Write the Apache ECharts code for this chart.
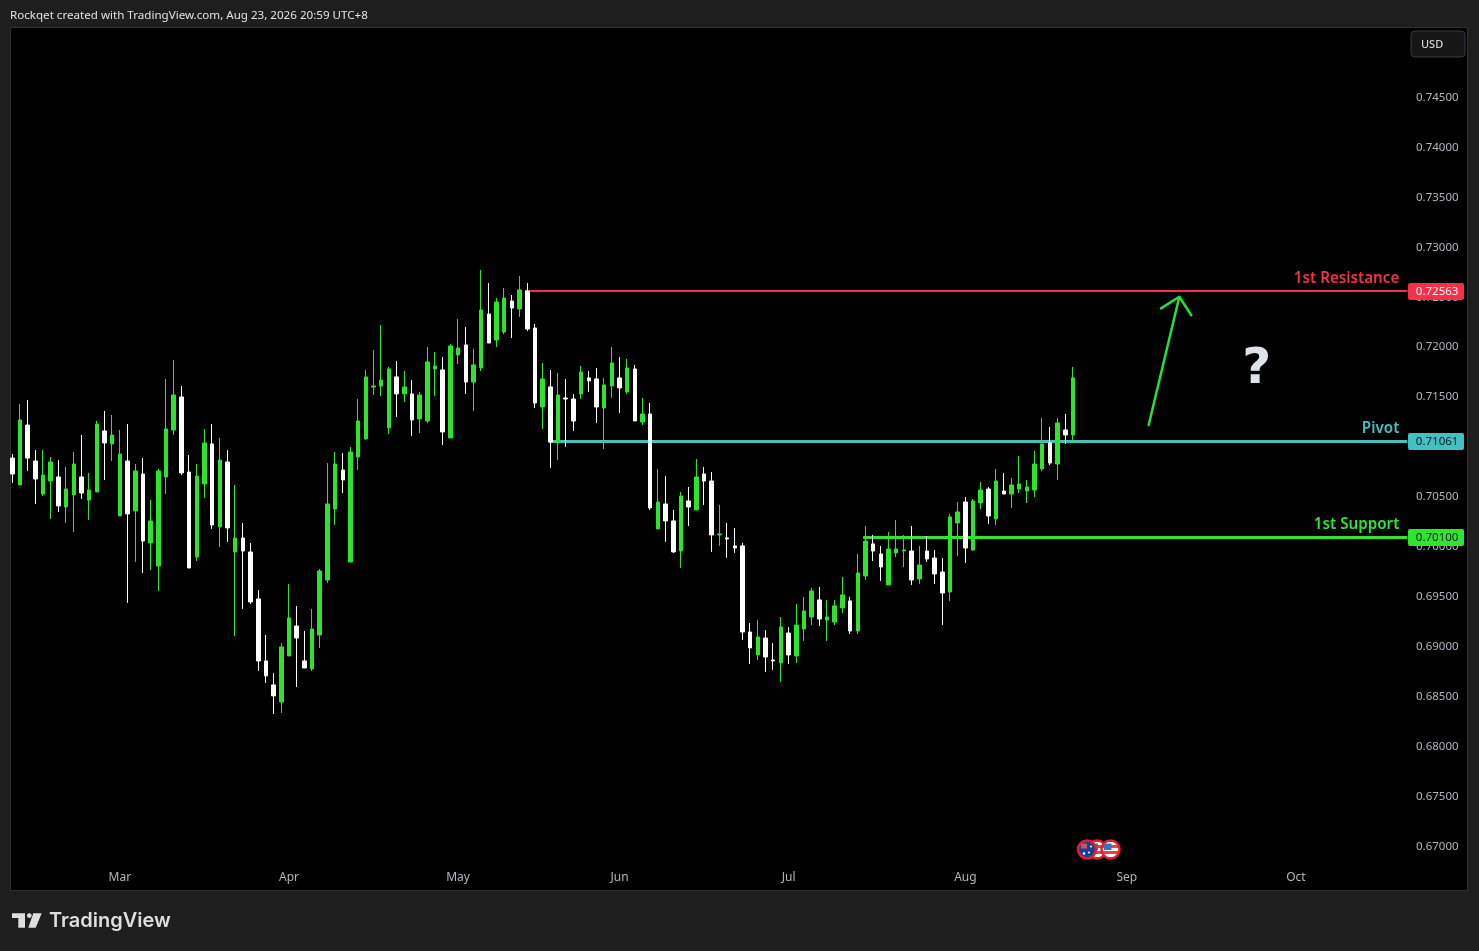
<!DOCTYPE html>
<html>
<head>
<meta charset="utf-8">
<style>html,body{margin:0;padding:0;background:#1e1e1e;overflow:hidden}#c{width:1479px;height:951px}</style>
<script src="https://cdn.jsdelivr.net/npm/echarts@6/dist/echarts.min.js"></script>
</head>
<body>
<div id="c"></div>
<script>
// Prices are in units of 0.00001 USD
const opens = [70890,70620,71220,70860,70530,70660,70700,70400,70520,70700,70470,70550,71161,71031,70310,70860,70360,70730,70039,69809,70700,71171,71501,70750,69899,70630,71031,70200,70850,69949,70089,69949,69479,68858,68618,68447,68908,69208,68858,68778,69118,69669,70380,70770,69849,70900,71081,71601,71611,71191,71702,71532,71532,71281,71261,71782,71772,71091,71922,72022,71651,71792,72332,72072,72152,72462,72382,72563,72192,71401,71602,71041,71491,71481,71531,71692,71682,71391,71612,71692,71552,71782,71251,71331,70180,70430,70260,69960,70460,70370,70730,70660,70120,70090,70010,70010,69148,68918,69088,68868,68838,69138,68908,69178,69298,69469,69268,69248,69389,69459,69158,69709,70030,69929,69619,69939,69959,69959,69679,69959,69889,69749,69549,70240,70450,69969,70440,70580,70280,70560,70530,70580,70560,70570,70780,71041,70830,71171,71121];
const closes = [70730,71271,70890,70680,70720,70850,70410,70580,70830,70540,70570,71231,71041,71121,70930,70330,70760,70059,70260,70760,71181,71521,70740,69789,70710,71041,70220,70870,70190,70089,69959,69449,68858,68708,68508,68998,69288,69088,68788,69178,69759,70430,70830,70670,70950,71261,71702,71611,71671,71782,71532,71602,71271,71521,71852,71812,71151,72012,71992,71651,71822,72372,72042,72452,72492,72392,72573,72182,71441,71682,71051,71521,71481,71261,71752,71662,71401,71622,71842,71592,71792,71261,71331,70390,70450,70260,69950,70510,70400,70700,70660,70120,70130,70080,69990,69148,68988,69098,68898,68858,69198,68918,69218,69359,69559,69278,69298,69409,69519,69158,69739,70059,69959,69799,69979,69979,69969,69669,69819,69879,69729,69539,70300,70350,69989,70460,70570,70310,70660,70530,70620,70630,70600,70830,71031,70840,71241,71121,71692];
const lows = [70640,70620,70760,70430,70510,70280,70350,70240,70150,70480,70270,70550,70670,70860,70310,69439,69849,69739,69769,69559,70530,71121,70720,69789,69859,70490,70180,69999,70049,69108,69379,69429,68758,68638,68327,68337,68908,68597,68788,68758,68988,69639,70220,70540,69849,70770,71071,71521,71511,71131,71301,71451,71111,71141,71241,71511,71021,71091,71832,71532,71361,71762,72042,72002,72132,72092,72302,72162,71391,71181,70791,70871,71001,71161,71481,71552,71241,70981,71491,71341,71531,71261,71221,70370,70180,70050,69940,69790,70210,70370,70420,69950,70010,69890,69940,69068,68828,68868,68748,68768,68648,68828,68838,69058,69218,69208,69058,69218,69339,69128,69128,69669,69859,69659,69619,69899,69799,69619,69629,69849,69629,69218,69459,69909,69839,69959,70380,70230,70220,70530,70390,70540,70440,70500,70760,70820,70670,71031,71041];
const highs = [70930,71431,71471,70971,70971,70900,70870,70800,70951,71121,70740,71261,71361,71321,71171,71231,70830,70890,70470,70780,71681,71872,71611,70920,70830,71181,71231,71091,70971,70620,70240,70039,69569,69118,68738,69038,69629,69408,69158,69378,69779,70840,70950,70940,71000,71481,71772,71972,72222,71802,71862,71762,71671,71551,72002,71952,71902,72032,72282,72202,71982,72773,72643,72492,72593,72522,72713,72643,72232,71842,71772,71742,71682,71531,71812,71762,71792,71692,72002,71902,71882,71822,71491,71441,70780,70710,70370,70550,70600,70880,70800,70750,70420,70240,70190,70040,69238,69268,69168,69038,69298,69198,69429,69499,69589,69599,69469,69469,69699,69499,69929,70210,70120,70010,70150,70270,70120,70210,70010,70110,69969,69889,70330,70450,70500,70480,70650,70600,70780,70740,70690,70910,70670,70960,71291,71201,71291,71331,71802];

const monthNames = ['Mar','Apr','May','Jun','Jul','Aug','Sep','Oct'];
const monthBars = [14,36,58,79,101,124,145,167];
const barSlots = 183;

const levelNames = ['1st Resistance','Pivot','1st Support'];
const levelPrices = [0.72563,0.71061,0.70100];
const levelTexts = ['0.72563','0.71061','0.70100'];
const levelStarts = [66.7,69.8,110.7];
const levelColors = ['#f7304a','#45bfc0','#2fe52f'];
const levelTextColors = ['#ffffff','#131722','#131722'];
const levelWidths = [2,3,3];
const levelEnd = 181.5;

const arrowBars = [147.85,151.84,149.45,151.84,153.4];
const arrowPrices = [0.71221,0.72505,0.72389,0.72505,0.72319];
const questionAt = [161.9,0.71771];

const FONT = '"Noto Sans", "Open Sans", sans-serif';
const categories = Array.from({length: barSlots}, (_, i) => {
  const k = monthBars.indexOf(i);
  return k >= 0 ? monthNames[k] : '';
});
const ohlc = opens.map((o, i) => [o/1e5, closes[i]/1e5, lows[i]/1e5, highs[i]/1e5]);
const GREEN = '#2ee32e', WHITE = '#ffffff';

function flagAU(cx, cy){
  return [
    {type:'circle',shape:{cx,cy,r:9},style:{fill:'#1c3f94',stroke:'#e0202f',lineWidth:2.5},z:12},
    {type:'rect',shape:{x:cx-6,y:cy-6,width:6,height:5},style:{fill:'#c8506a'},z:13},
    {type:'circle',shape:{cx:cx+4,cy:cy-3,r:1},style:{fill:'#fff'},z:13},
    {type:'circle',shape:{cx:cx+2,cy:cy+3,r:1},style:{fill:'#fff'},z:13},
    {type:'circle',shape:{cx:cx-3,cy:cy+4,r:1.2},style:{fill:'#fff'},z:13}
  ];
}
function flagUS(cx, cy, z){
  const stops = [];
  const cols = ['#e8404a','#ffffff','#e8404a','#ffffff','#e8404a','#ffffff','#e8404a'];
  cols.forEach((c,i)=>{stops.push({offset:i/7,color:c});stops.push({offset:(i+1)/7,color:c});});
  return [
    {type:'circle',shape:{cx,cy,r:9},style:{fill:{type:'linear',x:0,y:0,x2:0,y2:1,colorStops:stops},stroke:'#e0202f',lineWidth:2.5},z:z},
    {type:'rect',shape:{x:cx-6.5,y:cy-6,width:7.5,height:6.5},style:{fill:'#3d6fc4'},z:z+1}
  ];
}

const chart = echarts.init(document.getElementById('c'), null, {renderer:'canvas'});
chart.setOption({
  animation:false,
  backgroundColor:'#1e1e1e',
  grid:{left:8.46,width:1406.54,top:97.5,height:749,show:false},
  xAxis:[
    {type:'category',data:categories,boundaryGap:true,z:5,
      axisLine:{show:false},axisTick:{show:false},splitLine:{show:false},
      axisLabel:{show:true,interval:0,color:'#b2b5be',fontFamily:FONT,fontSize:12,margin:25,hideOverlap:false}},
    {type:'value',min:-0.5,max:barSlots-0.5,show:false,splitLine:{show:false}}
  ],
  yAxis:[{type:'value',position:'right',min:0.67,max:0.745,interval:0.005,scale:true,z:5,
    axisLine:{show:false},axisTick:{show:false},splitLine:{show:false},
    axisLabel:{align:'left',margin:1,padding:[2,0,0,0],color:'#b2b5be',fontFamily:FONT,fontSize:11.5,formatter:v=>v.toFixed(5)}}],
  graphic:{elements:[
    {type:'rect',shape:{x:10.5,y:27.5,width:1457,height:863},style:{fill:'#000',stroke:'#303030',lineWidth:1},z:0},
    {type:'text',x:10,y:15.5,style:{text:'Rockqet created with TradingView.com, Aug 23, 2026 20:59 UTC+8',fill:'#e0e2e8',font:'11.6px '+FONT,verticalAlign:'middle'},z:1},
    {type:'rect',shape:{x:1411,y:31,width:54,height:26,r:4},style:{fill:'#161616',stroke:'#363a45',lineWidth:1},z:10},
    {type:'text',x:1421,y:45,style:{text:'USD',fill:'#d1d4dc',font:'500 11px '+FONT,verticalAlign:'middle'},z:11},
    ...flagAU(1087,849.5),...flagUS(1097,849.5,10),...flagUS(1110.5,849.5,12),
    {type:'polygon',shape:{points:[[12,913.3],[25,913.3],[25,927.7],[18.3,927.7],[18.3,918],[12,918]]},style:{fill:'#dedede'},z:2},
    {type:'circle',shape:{cx:29.3,cy:915.6,r:2.4},style:{fill:'#dedede'},z:2},
    {type:'polygon',shape:{points:[[33.3,913.3],[41.7,913.3],[35.7,927.7],[28.3,927.7]]},style:{fill:'#dedede'},z:2},
    {type:'text',x:49,y:921,style:{text:'TradingView',fill:'#dedede',font:'600 20px Inter, '+FONT,verticalAlign:'middle'},z:2}
  ]},
  series:[
    {name:'levelLines',type:'custom',coordinateSystem:'cartesian2d',xAxisIndex:1,yAxisIndex:0,z:2,silent:true,
      data:levelPrices.map((p,i)=>[levelStarts[i],levelEnd,p]),encode:{x:[0,1],y:2},
      renderItem:(params,api)=>{
        const i=params.dataIndex;
        const a=api.coord([api.value(0),api.value(2)]),b=api.coord([api.value(1),api.value(2)]);
        const w=levelWidths[i];
        const y=Math.round(b[1])+(w%2?0.5:0);
        return {type:'line',shape:{x1:a[0],y1:y,x2:b[0],y2:y},style:{stroke:levelColors[i],lineWidth:w}};
      }},
    {name:'USD',type:'candlestick',xAxisIndex:0,yAxisIndex:0,z:3,barWidth:4,data:ohlc,
      itemStyle:{color:GREEN,color0:WHITE,borderColor:GREEN,borderColor0:WHITE,borderWidth:1}},
    {name:'levelTags',type:'custom',coordinateSystem:'cartesian2d',xAxisIndex:1,yAxisIndex:0,z:10,silent:true,
      data:levelPrices.map((p,i)=>[levelStarts[i],levelEnd,p]),encode:{x:[0,1],y:2},
      renderItem:(params,api)=>{
        const i=params.dataIndex;
        const b=api.coord([api.value(1),api.value(2)]);
        const y=Math.round(b[1]);
        return {type:'group',children:[
          {type:'rect',shape:{x:b[0]+0.7,y:y-8,width:56,height:17,r:2},style:{fill:levelColors[i]}},
          {type:'text',x:b[0]+8.5,y:y+1,style:{text:levelTexts[i],fill:levelTextColors[i],font:'11.5px '+FONT,verticalAlign:'middle'}},
          {type:'text',x:b[0]-8,y:y-12.5,style:{text:levelNames[i],fill:levelColors[i],font:'600 15.2px '+FONT,align:'right',verticalAlign:'middle'}}
        ]};
      }},
    {name:'arrow',type:'line',xAxisIndex:1,yAxisIndex:0,z:4,symbol:'none',silent:true,
      lineStyle:{color:'#22e23a',width:2.5,join:'round',cap:'round'},
      data:arrowBars.map((x,i)=>[x,arrowPrices[i]])},
    {name:'question',type:'scatter',xAxisIndex:1,yAxisIndex:0,z:4,symbolSize:1,silent:true,
      itemStyle:{color:'rgba(0,0,0,0)',opacity:1},
      label:{show:true,position:'inside',formatter:'?',color:'#dfe3ea',fontFamily:'"DejaVu Sans"',fontWeight:'bold',fontSize:50},
      data:[questionAt]}
  ]
});
</script>
</body>
</html>
